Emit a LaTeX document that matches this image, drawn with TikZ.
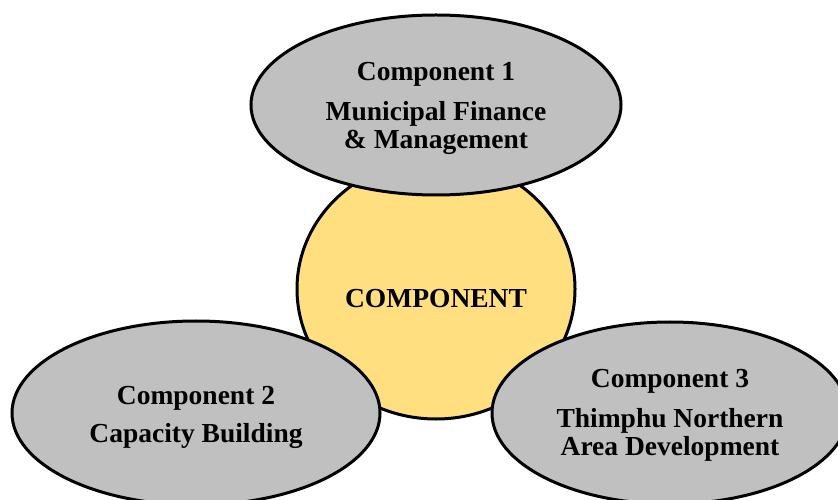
\documentclass[tikz,border=0pt]{standalone}
\usepackage{fontspec}
\setmainfont{Liberation Serif}
\usetikzlibrary{shapes.geometric}
\definecolor{compgray}{RGB}{192,192,192}
\definecolor{compyellow}{RGB}{255,223,128}
\tikzset{
  compbox/.style={draw, ellipse, line width=3bp, fill=compgray, inner sep=0pt, align=center,
    font=\bfseries\fontsize{27.5bp}{28bp}\selectfont},
  corebox/.style={compbox, fill=compyellow}
}
\newcommand{\topstrut}[1]{\rule{0pt}{#1}}
\begin{document}
\begin{tikzpicture}[x=1bp,y=-1bp]
\useasboundingbox (0,0) rectangle (838,500);
\clip (0,0) rectangle (838,500);
\node[corebox, minimum width=278bp, minimum height=260bp, text height=36bp, text depth=0pt] (core) at (436,289) {COMPONENT};
%
\node[compbox, minimum width=370bp, minimum height=180bp] (comp1) at (436,105) {\topstrut{26bp}Component 1\\[12bp]Municipal Finance\\\& Management};
\node[compbox, minimum width=368bp, minimum height=184bp] (comp2) at (196,413) {\topstrut{27bp}Component 2\\[10bp]Capacity Building};
\node[compbox, minimum width=356bp, minimum height=182bp] (comp3) at (670,413) {\topstrut{23bp}Component 3\\[12bp]Thimphu Northern\\Area Development};
\end{tikzpicture}
\end{document}
